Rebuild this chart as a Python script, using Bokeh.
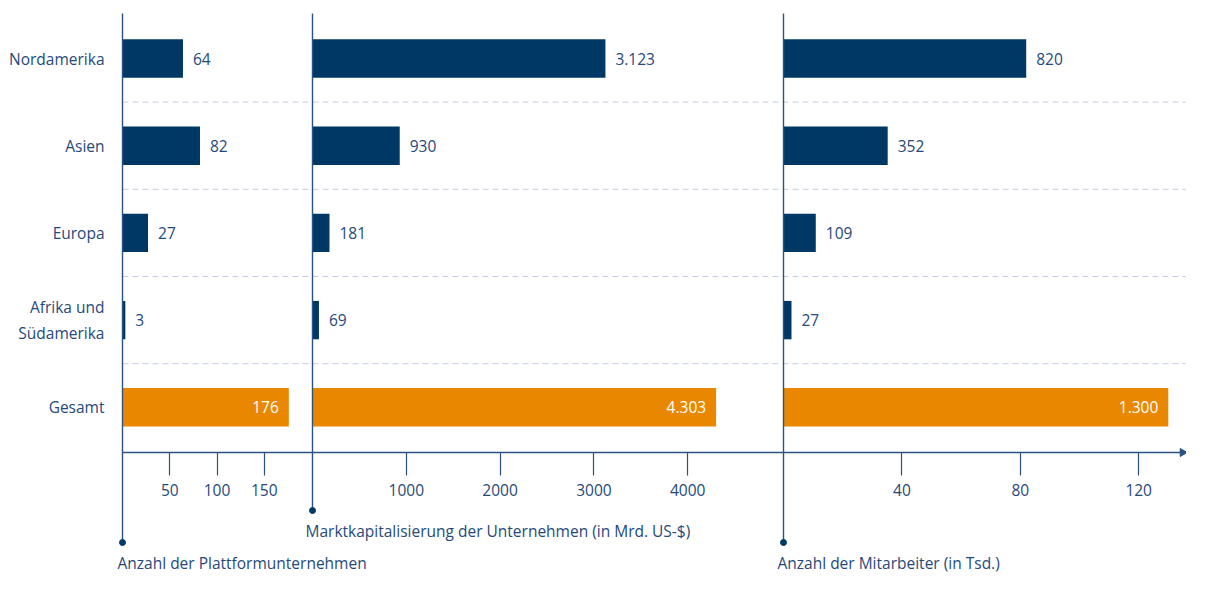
import numpy as np
from bokeh.plotting import figure
from bokeh.models import Range1d, LinearAxis, FixedTicker, ColumnDataSource
from bokeh.core.properties import value
from bokeh.embed import file_html
from bokeh.resources import INLINE

# ---------------- data ----------------
categories = ["Nordamerika", "Asien", "Europa", "Afrika und\nSüdamerika", "Gesamt"]
plattformen = [64, 82, 27, 3, 176]
marktkap = [3123, 930, 181, 69, 4303]
mitarbeiter = [820, 352, 109, 27, 1300]

ticks_plattformen = [50, 100, 150]
ticks_marktkap = [1000, 2000, 3000, 4000]
ticks_mitarbeiter = [400, 800, 1200]
ticklabels_mitarbeiter = ["40", "80", "120"]

titles = ["Anzahl der Plattformunternehmen",
          "Marktkapitalisierung der Unternehmen (in Mrd. US-$)",
          "Anzahl der Mitarbeiter (in Tsd.)"]

# ---------------- style ----------------
NAVY = "#003865"
ORANGE = "#E98800"
TEXT = "#26497A"
LINE = "#2B5382"
DASH = "#C6CEDF"
FONT = value("Open Sans")
FS = "15.5px"

W, H = 1186, 572
LEFT, TOP = 110, 0
FRAME_W = W - LEFT
ROW0, ROWSTEP = 58, 87.2     # category centre positions (px from top)

def ypos(py):
    return (py - ROW0) / ROWSTEP

# panel geometry: (zero position in px, px per unit)
panels = [(122, 0.945), (312, 0.0938), (783, 0.296)]

def xr(zero, scale):
    start = -(zero - LEFT) / scale
    return Range1d(start, start + FRAME_W / scale)

r1 = xr(*panels[0])
p = figure(width=W, height=H, x_range=r1,
           y_range=Range1d(ypos(H), ypos(TOP)),
           x_axis_location=None, y_axis_location="left",
           output_backend="svg", toolbar_location=None,
           min_border_left=LEFT, min_border_top=TOP, min_border_bottom=0,
           min_border_right=0, outline_line_color=None)
p.extra_x_ranges = {"p2": xr(*panels[1]), "p3": xr(*panels[2])}
names = ["default", "p2", "p3"]

p.xgrid.visible = False
p.ygrid.visible = False

# y axis with category labels
p.yaxis.ticker = FixedTicker(ticks=list(range(len(categories))))
p.yaxis.major_label_overrides = {i: c for i, c in enumerate(categories)}
p.yaxis.axis_line_color = None
p.yaxis.major_tick_line_color = None
p.yaxis.minor_tick_line_color = None
p.yaxis.major_tick_out = 0
p.yaxis.major_tick_in = 0
p.yaxis.major_label_standoff = 6
p.yaxis.major_label_text_font = "Open Sans"
p.yaxis.major_label_text_font_size = FS
p.yaxis.major_label_text_color = TEXT

idx = list(range(len(categories)))
colors = [NAVY] * (len(categories) - 1) + [ORANGE]

def de(v):
    return f"{v:,}".replace(",", ".")

# dashed separators between categories (from first panel line to the right)
seps = [i + 0.5 for i in range(len(categories) - 1)]
p.segment(x0=[0] * len(seps), x1=[r1.end] * len(seps), y0=seps, y1=seps,
          line_color=DASH, line_dash="6 4", line_width=1)

AXIS_Y = ypos(452)
bottoms = [ypos(542), ypos(510), ypos(542)]
title_y = [ypos(562), ypos(530), ypos(562)]
title_off = [-5, -7, -6]
all_vals = [plattformen, marktkap, mitarbeiter]
all_ticks = [ticks_plattformen, ticks_marktkap, ticks_mitarbeiter]

for k, (name, vals) in enumerate(zip(names, all_vals)):
    src = ColumnDataSource(dict(y=idx, v=vals, c=colors))
    p.hbar(y="y", left=0, right="v", height=0.44, fill_color="c",
           line_color=None, source=src, x_range_name=name)
    # value labels
    out = ColumnDataSource(dict(y=idx[:-1], v=vals[:-1], lab=[de(v) for v in vals[:-1]]))
    p.text(x="v", y="y", text="lab", source=out, x_offset=10,
           text_align="left", text_baseline="middle", text_font=FONT,
           text_font_size=FS, text_color=TEXT, x_range_name=name)
    tot = ColumnDataSource(dict(y=idx[-1:], v=vals[-1:], lab=[de(v) for v in vals[-1:]]))
    p.text(x="v", y="y", text="lab", source=tot, x_offset=-10,
           text_align="right", text_baseline="middle", text_font=FONT,
           text_font_size=FS, text_color="white", x_range_name=name)
    # vertical panel line with dot
    p.segment(x0=[0], y0=[ypos(13)], x1=[0], y1=[bottoms[k]],
              line_color=LINE, line_width=1.4, x_range_name=name)
    p.scatter(x=[0], y=[bottoms[k]], size=6, marker="circle",
              fill_color=NAVY, line_color=NAVY, x_range_name=name)
    # panel title
    p.text(x=[0], y=[title_y[k]], text=[titles[k]], x_offset=title_off[k],
           text_align="left", text_baseline="middle", text_font=FONT,
           text_font_size=FS, text_color=TEXT, x_range_name=name)
    # axis
    ax = LinearAxis(x_range_name=name, ticker=FixedTicker(ticks=all_ticks[k]),
                    fixed_location=AXIS_Y,
                    axis_line_color=None,
                    major_tick_in=0, major_tick_out=23,
                    major_tick_line_color=LINE, major_tick_line_width=1.2,
                    minor_tick_line_color=None,
                    major_label_standoff=8,
                    major_label_text_font="Open Sans",
                    major_label_text_font_size=FS,
                    major_label_text_color=TEXT)
    if k == 2:
        ax.major_label_overrides = dict(zip(ticks_mitarbeiter, ticklabels_mitarbeiter))
    p.add_layout(ax, "below")

# axis line with arrow head
x_end = r1.end - 4 / panels[0][1]
p.segment(x0=[0], x1=[x_end], y0=[AXIS_Y], y1=[AXIS_Y], line_color=LINE, line_width=1.4)
p.scatter(x=[x_end], y=[AXIS_Y], marker="triangle",
          angle=-np.pi / 2, size=8, fill_color=LINE, line_color=LINE)

open("out.html", "w").write(file_html(p, INLINE))
